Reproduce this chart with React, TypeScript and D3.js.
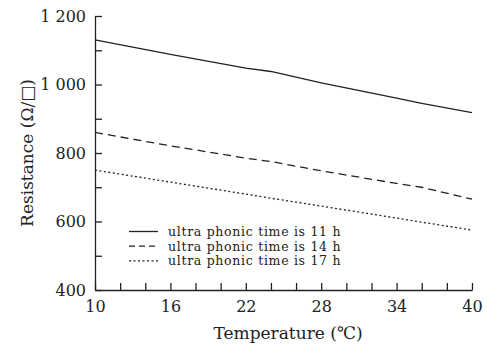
import React, { useEffect, useRef } from 'react'
import * as d3 from 'd3'

const temps = [10, 16, 22, 24, 28, 34, 36, 40]
const series11 = [1130, 1088, 1048, 1038, 1005, 960, 945, 918]
const series14 = [860, 821, 785, 775, 748, 711, 700, 665]
const series17 = [750, 715, 680, 668, 645, 610, 598, 575]
const seriesNames = [
  'ultra phonic time is 11 h',
  'ultra phonic time is 14 h',
  'ultra phonic time is 17 h',
]
const dashes = ['none', '8,5', '2,2.5']
const xTickLabels = [10, 16, 22, 28, 34, 40]
const yTickLabels = [400, 600, 800, 1000, 1200]

const FONT = '"DejaVu Serif", "Liberation Serif", serif'

const App = () => {
  const ref = useRef<SVGSVGElement>(null)

  useEffect(() => {
    const svg = d3.select(ref.current)
    svg.selectAll('*').remove()

    const width = 487
    const height = 347
    const margin = { top: 16, right: 15, bottom: 57, left: 95 }

    const x = d3
      .scaleLinear()
      .domain([10, 40])
      .range([margin.left, width - margin.right])
    const y = d3
      .scaleLinear()
      .domain([400, 1200])
      .range([height - margin.bottom, margin.top])

    const color = '#222'

    // axes
    const xAxis = svg
      .append('g')
      .attr('transform', `translate(0,${y(400)})`)
      .call(
        d3
          .axisBottom(x)
          .tickValues(d3.range(10, 41, 2))
          .tickSizeInner(-7)
          .tickSizeOuter(0)
          .tickFormat((d) => (xTickLabels.includes(+d) ? String(d) : ''))
      )
    xAxis.selectAll('text').attr('y', 11).attr('dy', '0.71em')

    const yAxis = svg
      .append('g')
      .attr('transform', `translate(${x(10)},0)`)
      .call(
        d3
          .axisLeft(y)
          .tickValues(d3.range(400, 1201, 100))
          .tickSizeInner(-7)
          .tickSizeOuter(0)
          .tickFormat((d) =>
            yTickLabels.includes(+d) ? d3.format(',')(+d).replace(',', ' ') : ''
          )
      )
    yAxis.selectAll('text').attr('x', -9)

    svg
      .selectAll('.domain, .tick line')
      .attr('stroke', color)
      .attr('stroke-width', 1.3)
    svg
      .selectAll('.tick text')
      .attr('fill', color)
      .style('font-family', FONT)
      .style('font-size', '16px')

    // lines
    const all = [series11, series14, series17]
    const line = d3
      .line<number>()
      .x((_, i) => x(temps[i]))
      .y((d) => y(d))

    all.forEach((s, i) => {
      svg
        .append('path')
        .datum(s)
        .attr('fill', 'none')
        .attr('stroke', color)
        .attr('stroke-width', 1.3)
        .attr('stroke-dasharray', dashes[i])
        .attr('d', line)
    })

    // legend
    const legend = svg.append('g').attr('transform', 'translate(129,231.5)')
    seriesNames.forEach((name, i) => {
      const g = legend.append('g').attr('transform', `translate(0,${i * 14.7})`)
      g.append('line')
        .attr('x1', 0)
        .attr('x2', 29)
        .attr('y1', 0)
        .attr('y2', 0)
        .attr('stroke', color)
        .attr('stroke-width', 1.3)
        .attr('stroke-dasharray', i === 1 ? '6,4' : dashes[i])
      g.append('text')
        .attr('x', 39)
        .attr('y', 4.3)
        .attr('fill', color)
        .style('font-family', FONT)
        .style('font-size', '12.5px')
        .style('letter-spacing', '0.7px')
        .text(name)
    })

    // axis titles
    svg
      .append('text')
      .attr('x', 288)
      .attr('y', 339)
      .attr('text-anchor', 'middle')
      .attr('fill', color)
      .style('font-family', FONT)
      .style('font-size', '17px')
      .text('Temperature (℃)')

    svg
      .append('text')
      .attr('transform', `translate(33,${(y(400) + y(1200)) / 2}) rotate(-90)`)
      .attr('text-anchor', 'middle')
      .attr('fill', color)
      .style('font-family', FONT)
      .style('font-size', '17px')
      .text('Resistance (Ω/□)')
  }, [])

  return (
    <svg
      ref={ref}
      width={487}
      height={347}
      style={{ position: 'absolute', left: 0, top: 0, background: '#fff' }}
    />
  )
}

export default App
